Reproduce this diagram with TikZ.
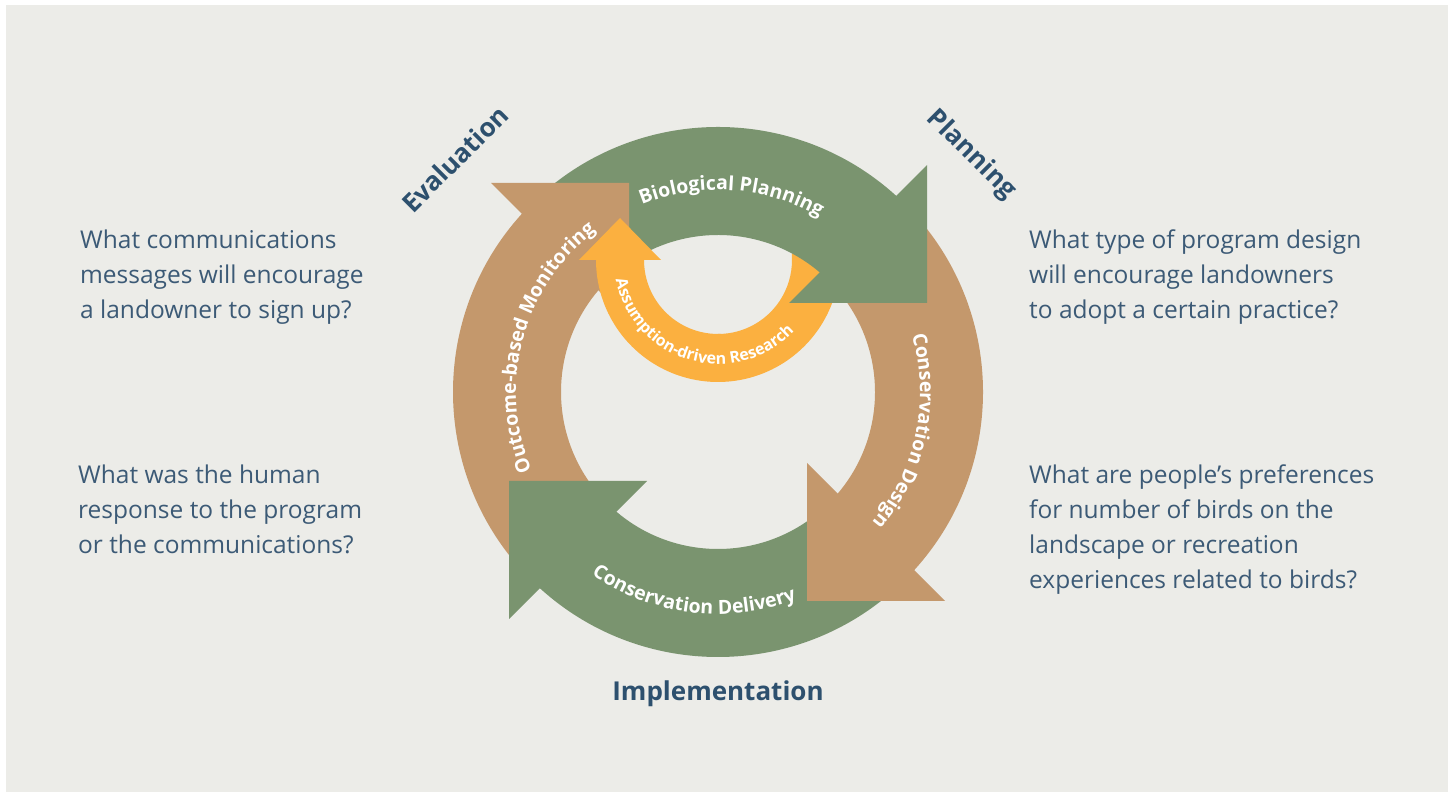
\documentclass[tikz,border=0pt]{standalone}
\usepackage{fontspec}
\setmainfont{Open Sans}
\usetikzlibrary{decorations.text}
\definecolor{panelgray}{RGB}{236,236,232}
\definecolor{leaf}{RGB}{122,148,111}
\definecolor{clay}{RGB}{196,152,108}
\definecolor{amber}{RGB}{251,176,64}
\definecolor{ink}{RGB}{45,80,110}
\definecolor{qink}{RGB}{60,90,118}

\begin{document}
\begin{tikzpicture}[x=1pt,y=1pt,
		question/.style={anchor=north west, align=left, inner sep=0pt, text=qink, font=\fontsize{24.5}{35}\selectfont},
		phase/.style={inner sep=0pt, text=ink, font=\bfseries\fontsize{26}{30}\selectfont},
		arctext/.style={decorate, decoration={text along path, text align=center, text color=white, text={|\bfseries\fontsize{19.5}{20}\selectfont|#1}}},
		smallarctext/.style={decorate, decoration={text along path, text align=center, text color=white, text={|\bfseries\fontsize{16}{16}\selectfont|#1}}}]
		% 背景の描画
		\fill[white] (0,0) rectangle (1448,792);
		\fill[panelgray] (6,0) rectangle (1448,787);
		% 中心の定義
		\coordinate (C) at (718,400);
		\coordinate (O) at (718,532);
		% 矢じりの点
		\coordinate (bio_a) at (789,489);
		\coordinate (bio_b) at (927,627);
		\coordinate (bio_c) at (927,489);
		\coordinate (design_a) at (807,329);
		\coordinate (design_b) at (945,191);
		\coordinate (design_c) at (807,191);
		\coordinate (delivery_a) at (647,311);
		\coordinate (delivery_b) at (509,173);
		\coordinate (delivery_c) at (509,311);
		\coordinate (monitor_a) at (629,471);
		\coordinate (monitor_b) at (491,609);
		\coordinate (monitor_c) at (629,609);
		\coordinate (research_a) at (579,532);
		\coordinate (research_b) at (620,574);
		\coordinate (research_c) at (661,532);
		% オレンジの右側(緑の下)
		\fill[amber] (O) ++(5:122) arc (5:-90:122) -- ++(90:48) arc (-90:5:74) -- cycle;
		% 矢の胴体の描画
		\fill[leaf] (C) ++(136:265) arc (136:46:265) -- ++(46:-108) arc (46:136:157) -- cycle;
		\fill[clay] (C) ++(46:265) arc (46:-44:265) -- ++(-44:-108) arc (-44:46:157) -- cycle;
		\fill[leaf] (C) ++(-44:265) arc (-44:-134:265) -- ++(-134:-108) arc (-134:-44:157) -- cycle;
		\fill[clay] (C) ++(-134:265) arc (-134:-224:265) -- ++(-224:-108) arc (-224:-134:157) -- cycle;
		% 矢じりの描画
		\fill[leaf] (bio_a)--(bio_b)--(bio_c)--cycle;
		\fill[clay] (design_a)--(design_b)--(design_c)--cycle;
		\fill[leaf] (delivery_a)--(delivery_b)--(delivery_c)--cycle;
		\fill[clay] (monitor_a)--(monitor_b)--(monitor_c)--cycle;
		% オレンジの左側と矢じり
		\fill[amber] (O) ++(-88:122) arc (-88:-180:122) -- ++(0:48) arc (-180:-88:74) -- cycle;
		\fill[amber] (research_a)--(research_b)--(research_c)--cycle;
		% 矢に沿った文字
		\path[arctext={Biological Planning}] (C) ++(131:202) arc (131:41:202);
		\path[arctext={Conservation Design}] (C) ++(33:202) arc (33:-57:202);
		\path[arctext={Conservation Delivery}] (C) ++(-142:222) arc (-142:-52:222);
		\path[arctext={Outcome-based Monitoring}] (C) ++(210:202) arc (210:120:202);
		\path[smallarctext={Assumption-driven Research}] (O) ++(-186:104) arc (-186:-26:104);
		% 段階の名前
		\node[phase, rotate=45] (evaluation) at (455,633) {Evaluation};
		\node[phase, rotate=-45] (planning) at (971,637) {Planning};
		\node[phase] (implementation) at (718,98) {Implementation};
		% 問いの文章
		\node[question] (q_message) at (80,562) {What communications\\messages will encourage\\a landowner to sign up?};
		\node[question] (q_response) at (78,327) {What was the human\\response to the program\\or the communications?};
		\node[question] (q_design) at (1029,562) {What type of program design\\will encourage landowners\\to adopt a certain practice?};
		\node[question] (q_prefer) at (1029,327) {What are people’s preferences\\for number of birds on the\\landscape or recreation\\experiences related to birds?};
	\end{tikzpicture}
\end{document}
